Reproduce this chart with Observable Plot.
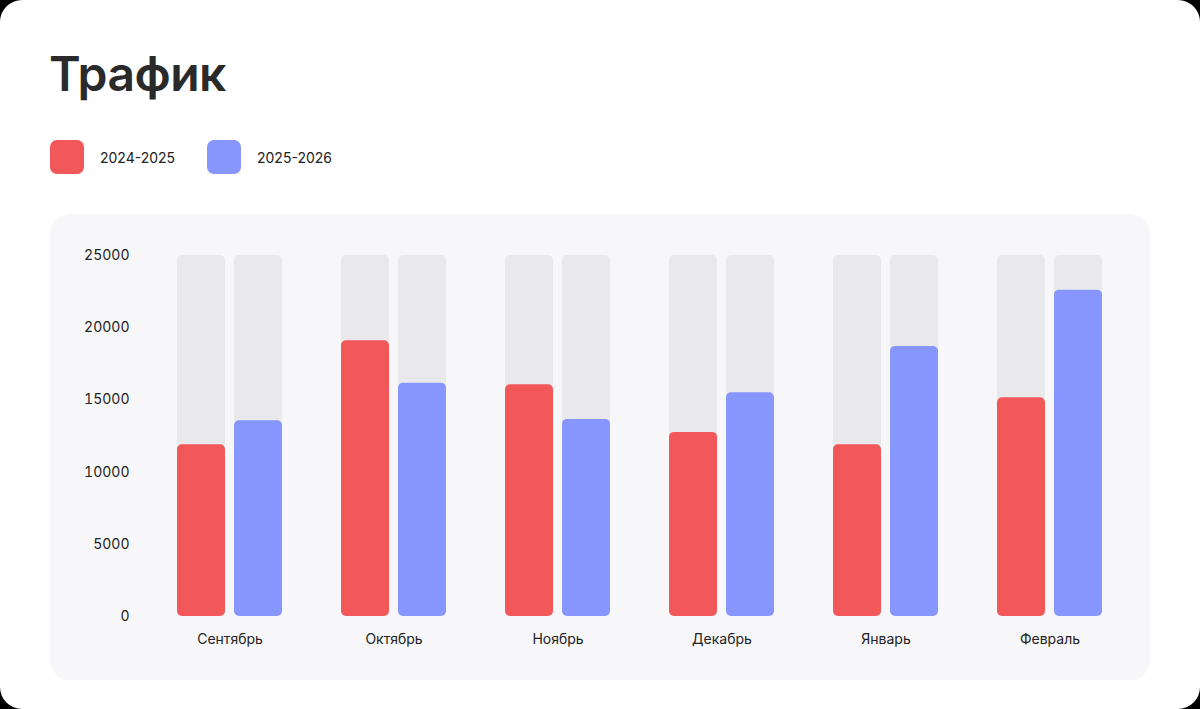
<!DOCTYPE html>
<html><head><meta charset="utf-8">
<script src="https://cdn.jsdelivr.net/npm/d3@7"></script>
<script src="https://cdn.jsdelivr.net/npm/@observablehq/plot@0.6"></script>
<style>
html,body{margin:0;padding:0;background:#000;width:1200px;height:709px;overflow:hidden;font-family:Inter,"Noto Sans",sans-serif}
#card{position:absolute;left:0;top:0;width:1200px;height:709px;background:#fff;border-radius:22px}
h1{position:absolute;left:49px;top:44px;margin:0;font-size:48px;font-weight:600;color:#2a2a2a;letter-spacing:-0.5px}
.lg{position:absolute;top:140px;display:flex;align-items:center;font-size:14px;color:#222}
.sw{width:34px;height:34px;border-radius:7px;margin-right:16px}
#panel{position:absolute;left:50px;top:214px;width:1100px;height:466px;background:#f7f7f9;border-radius:20px}
</style></head><body>
<div id="card">
<h1>Трафик</h1>
<div class="lg" style="left:50px"><div class="sw" style="background:#f2575a"></div>2024-2025</div>
<div class="lg" style="left:207px"><div class="sw" style="background:#8696fe"></div>2025-2026</div>
<div id="panel"></div>
</div>
<script>
const months = ["Сентябрь","Октябрь","Ноябрь","Декабрь","Январь","Февраль"];
const seriesNames = ["2024-2025","2025-2026"];
const values2024 = [11900,19100,16050,12750,11900,15150];
const values2025 = [13550,16150,13650,15500,18700,22600];
const yTicks = [0,5000,10000,15000,20000,25000];
const maxValue = 25000;

const data = [];
months.forEach((m,i)=>{
  data.push({month:m, series:seriesNames[0], value:values2024[i]});
  data.push({month:m, series:seriesNames[1], value:values2025[i]});
});
const chart = Plot.plot({
  width:1100, height:466,
  marginLeft:124, marginRight:45, marginTop:41, marginBottom:64,
  style:{background:"transparent", fontFamily:"Inter, 'Noto Sans', sans-serif", fontSize:"14px", color:"#222"},
  fx:{domain:months, paddingInner:0.35, paddingOuter:0, label:null},
  x:{domain:seriesNames, paddingInner:0.15, paddingOuter:0, axis:null},
  y:{domain:[0,maxValue], ticks:yTicks, label:null},
  color:{domain:seriesNames, range:["#f2575a","#8696fe"]},
  marks:[
    Plot.barY(data,{fx:"month", x:"series", y:d=>maxValue, fill:"#e9e9eb", rx:5}),
    Plot.barY(data,{fx:"month", x:"series", y:"value", fill:"series", rx:5}),
    Plot.axisY({ticks:yTicks, tickSize:0, tickPadding:47, tickFormat:d=>String(d), label:null, fontSize:14}),
    Plot.axisFx({anchor:"bottom", tickSize:0, tickPadding:18, label:null, fontSize:14})
  ]
});
document.getElementById("panel").appendChild(chart);
</script>
</body></html>
